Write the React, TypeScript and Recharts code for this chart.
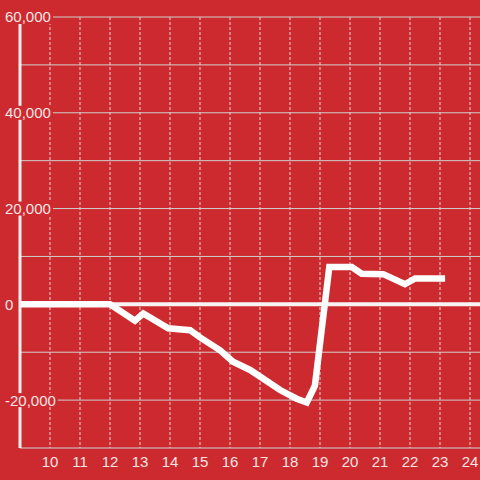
import React from "react";
import {
  LineChart,
  Line,
  XAxis,
  YAxis,
  CartesianGrid,
  ReferenceLine
} from "recharts";

// hours of the day (decimal) and running value
const hours = [
  9, 10, 11, 12, 12.83, 13.11, 13.94, 14.67, 15.0, 15.67, 16.1, 16.67, 17.67,
  18.22, 18.56, 18.83, 19.31, 20.06, 20.39, 21.11, 21.83, 22.17, 23.17
];
const values = [
  0, 0, 0, 0, -3400, -1900, -5000, -5400, -6900, -9600, -12000, -13700,
  -17900, -19700, -20500, -17000, 7800, 7800, 6400, 6300, 4200, 5400, 5400
];

const xTicks = [10, 11, 12, 13, 14, 15, 16, 17, 18, 19, 20, 21, 22, 23, 24];
const yTicks = [-20000, 0, 20000, 40000, 60000];
const yGrid = [-30000, -20000, -10000, 0, 10000, 20000, 30000, 40000, 50000, 60000];

const data = hours.map((h, i) => ({ hour: h, value: values[i] }));

const RED = "#cd2a2f";
const TEXT = "#f6e4e4";
const FONT = "'Liberation Sans', Arial, sans-serif";
const LABEL_X = 5;

const charWidth = (c: string) => {
  if (c === ",") return 4.2;
  if (c === "-") return 5;
  return 8.34;
};

const YTick = (props: any) => {
  const { y, payload } = props;
  const label = Number(payload.value).toLocaleString("en-US");
  const w = label.split("").reduce((s, c) => s + charWidth(c), 0);
  return (
    <g>
      <rect x={LABEL_X - 2} y={y - 7} width={w + 4} height={14} fill={RED} />
      <text
        x={LABEL_X}
        y={y}
        dy="0.36em"
        textAnchor="start"
        fill={TEXT}
        fontSize={15}
        fontFamily={FONT}
      >
        {label}
      </text>
    </g>
  );
};

export default function App() {
  return (
    <div style={{ width: 480, height: 480, background: RED, overflow: "hidden" }}>
      <style>{`html, body { margin: 0; padding: 0; overflow: hidden; }`}</style>
      <LineChart
        width={480}
        height={480}
        data={data}
        margin={{ top: 17, right: 0, bottom: 0, left: 0 }}
      >
        <CartesianGrid
          vertical={false}
          horizontalValues={yGrid}
          stroke="#cfcfcf"
          strokeWidth={1}
        />
        <CartesianGrid
          horizontal={false}
          verticalValues={xTicks}
          stroke="#e0d6d6"
          strokeDasharray="3 2"
          strokeWidth={1}
        />
        <XAxis
          dataKey="hour"
          type="number"
          domain={[9, 24.3333]}
          ticks={xTicks}
          height={32}
          axisLine={false}
          tickLine={false}
          tick={{ fill: TEXT, fontSize: 15, fontFamily: FONT }}
          allowDataOverflow
        />
        <YAxis
          type="number"
          domain={[-30000, 60000]}
          ticks={yTicks}
          width={20}
          tickLine={false}
          axisLine={{ stroke: "#f4f0f0", strokeWidth: 3 }}
          tick={<YTick />}
          allowDataOverflow
        />
        <ReferenceLine y={0} stroke="#f8f4f4" strokeWidth={4} />
        <Line
          type="linear"
          dataKey="value"
          stroke="#ffffff"
          strokeWidth={6.5}
          dot={false}
          activeDot={false}
          isAnimationActive={false}
        />
      </LineChart>
    </div>
  );
}
